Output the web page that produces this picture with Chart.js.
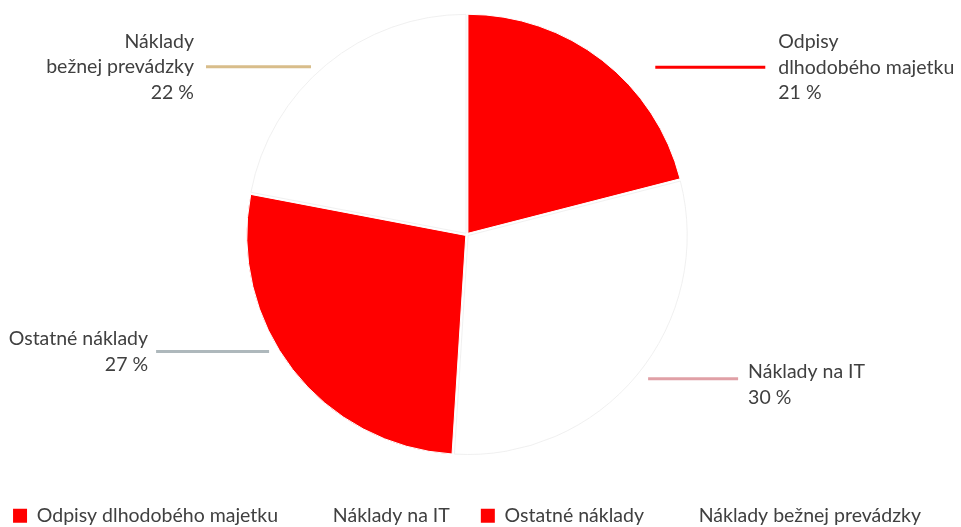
<!DOCTYPE html>
<html>
<head>
<meta charset="utf-8">
<script src="https://cdn.jsdelivr.net/npm/chart.js@4.4.0/dist/chart.umd.min.js"></script>
<style>
  html, body { margin: 0; padding: 0; background: #fff; }
  #wrap { width: 961px; height: 527px; position: relative; }
</style>
</head>
<body>
<div id="wrap"><canvas id="chart"></canvas></div>
<script>
const categories = ['Odpisy dlhodobého majetku', 'Náklady na IT', 'Ostatné náklady', 'Náklady bežnej prevádzky'];
const shares = [21, 30, 27, 22];
const calloutLines = [['Odpisy', 'dlhodobého majetku'], ['Náklady na IT'], ['Ostatné náklady'], ['Náklady', 'bežnej prevádzky']];
const sliceColors = ['#ff0000', '#ffffff', '#ff0000', '#ffffff'];
const sliceBorders = ['#ffffff', '#f0f0f0', '#ffffff', '#f0f0f0'];
const leaderColors = ['#ff0000', '#e0a0a6', '#aeb8bc', '#d8bd8a'];

// leader line: start point inside slice (fraction of sweep, radius factor), length, side
const calloutPos = [
  { frac: 0.64, k: 1.15, len: 110, gap: 13, side: 1, dy: 0 },
  { frac: 0.49, k: 1.057, len: 90, gap: 10, side: 1, dy: 6 },
  { frac: 0.574, k: 1.05, len: 113, gap: 8, side: -1, dy: 0 },
  { frac: 0.458, k: 1.046, len: 105, gap: 12, side: -1, dy: 0 }
];

const FONT = 'Lato, "Open Sans", sans-serif';
const FONT_SIZE = 19.5;
const TEXT = '#404040';

const callouts = {
  id: 'callouts',
  afterDatasetsDraw(chart) {
    const ctx = chart.ctx;
    const total = shares.reduce((a, b) => a + b, 0);
    chart.getDatasetMeta(0).data.forEach((arc, i) => {
      const p = arc.getProps(['x', 'y', 'startAngle', 'endAngle', 'outerRadius'], true);
      const c = calloutPos[i];
      const a = p.startAngle + c.frac * (p.endAngle - p.startAngle);
      const x0 = p.x + Math.cos(a) * p.outerRadius * c.k;
      const y0 = p.y + Math.sin(a) * p.outerRadius * c.k;
      const x1 = x0 + c.side * c.len;
      ctx.save();
      ctx.strokeStyle = leaderColors[i];
      ctx.lineWidth = 3;
      ctx.beginPath();
      ctx.moveTo(x0, y0);
      ctx.lineTo(x1, y0);
      ctx.stroke();
      const lines = calloutLines[i].concat([Math.round(shares[i] / total * 100) + ' %']);
      const lh = 25.5;
      const top = y0 + c.dy - (lines.length - 1) * lh / 2;
      ctx.fillStyle = TEXT;
      ctx.font = FONT_SIZE + 'px ' + FONT;
      ctx.textBaseline = 'middle';
      ctx.textAlign = c.side > 0 ? 'left' : 'right';
      lines.forEach((t, j) => ctx.fillText(t, x1 + c.side * c.gap, top + j * lh));
      ctx.restore();
    });
  }
};

// keep the legend on one row and let it sit lower than its fitted box
const EXTRA = 200;
const legendTweak = {
  id: 'legendTweak',
  beforeInit(chart) {
    const legend = chart.legend;
    const fit = legend.fit;
    legend.fit = function () {
      const mw = this.maxWidth;
      this.maxWidth = mw + EXTRA;
      fit.call(this);
      this.maxWidth = mw;
      this.width = mw;
      this.height = 58;
    };
  },
  afterLayout(chart) {
    const legend = chart.legend;
    legend.top += 6;
    legend.bottom += 6;
    legend.right += EXTRA;
    legend.lineWidths[0] += EXTRA;
  }
};

new Chart(document.getElementById('chart'), {
  type: 'pie',
  data: {
    labels: categories,
    datasets: [{
      data: shares,
      backgroundColor: sliceColors,
      borderColor: sliceBorders,
      borderWidth: 1,
      offset: 6
    }]
  },
  options: {
    responsive: true,
    maintainAspectRatio: false,
    animation: false,
    radius: 219,
    layout: { padding: { left: 0, right: 27, top: 0, bottom: 0 } },
    plugins: {
      tooltip: { enabled: false },
      legend: {
        position: 'bottom',
        labels: {
          font: { family: FONT, size: FONT_SIZE },
          color: TEXT,
          boxWidth: 14,
          boxHeight: 14,
          padding: 31,
          generateLabels(chart) {
            return Chart.overrides.pie.plugins.legend.labels.generateLabels(chart)
              .map(l => Object.assign(l, { lineWidth: 0, strokeStyle: l.fillStyle }));
          }
        }
      }
    }
  },
  plugins: [callouts, legendTweak]
});
</script>
</body>
</html>
